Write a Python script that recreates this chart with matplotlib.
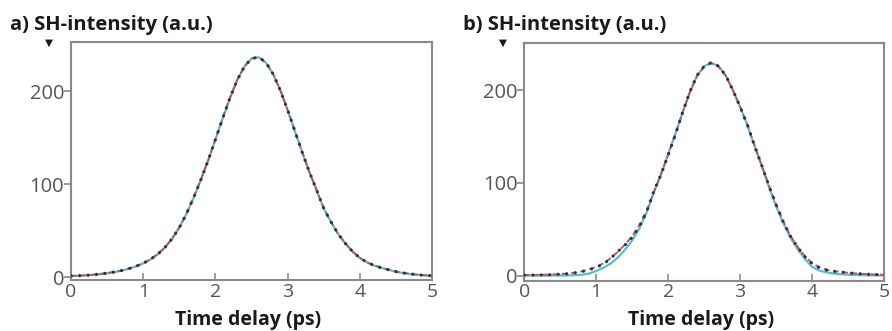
import numpy as np
import matplotlib
matplotlib.use("Agg")
import matplotlib.pyplot as plt

plt.rcParams['font.family'] = ['Open Sans', 'DejaVu Sans']

# time delay grid (ps)
time_ps = [round(0.1 * i, 1) for i in range(51)]

# panel a) measured SH intensity (black dotted), sech^2 fit (red dashed), gaussian fit (cyan)
a_measured = [1.4, 1.6, 2.0, 2.6, 3.4, 4.4, 5.6, 7.2, 9.2, 11.8,
              15.0, 19.2, 24.8, 32.0, 41.5, 53.5, 68.5, 86.0, 105.3, 125.9,
              148.2, 170.9, 192.7, 211.9, 226.6, 235.2, 236.7, 230.8, 218.4, 200.8,
              179.8, 157.3, 134.7, 113.4, 94.0, 74.0, 59.5, 46.5, 36.3, 27.6,
              20.8, 16.0, 12.6, 10.1, 8.0, 6.0, 4.6, 3.5, 2.7, 2.0, 1.5]
a_fit_sech = [1.5, 1.7, 2.1, 2.7, 3.5, 4.5, 5.7, 7.3, 9.3, 11.9,
              15.1, 19.3, 24.9, 32.1, 41.6, 53.6, 68.6, 86.1, 105.4, 126.0,
              148.3, 171.0, 192.8, 212.0, 226.7, 235.3, 236.8, 230.9, 218.5, 200.9,
              179.9, 157.4, 134.8, 113.5, 94.1, 74.1, 59.6, 46.6, 36.4, 27.7,
              20.9, 16.1, 12.7, 10.2, 8.1, 6.1, 4.7, 3.6, 2.8, 2.1, 1.6]
a_fit_gauss = [1.3, 1.5, 1.9, 2.5, 3.3, 4.3, 5.5, 7.1, 9.1, 11.7,
               14.9, 19.1, 24.7, 31.9, 41.4, 53.4, 68.4, 85.9, 105.2, 125.8,
               148.1, 170.8, 192.6, 211.8, 226.5, 235.1, 236.6, 230.7, 218.3, 200.7,
               179.7, 157.2, 134.6, 113.3, 93.9, 73.9, 59.4, 46.4, 36.2, 27.5,
               20.7, 15.9, 12.5, 10.0, 7.9, 5.9, 4.5, 3.4, 2.6, 1.9, 1.4]

# panel b)
b_measured = [0.5, 0.6, 0.7, 0.9, 1.1, 1.5, 2.0, 2.9, 4.3, 6.3,
              9.0, 12.5, 18.5, 26.0, 33.0, 41.4, 53.0, 69.0, 91.0, 109.0,
              130.0, 152.0, 176.0, 198.0, 216.0, 226.0, 230.0, 226.0, 216.0, 200.0,
              182.0, 163.0, 140.0, 119.0, 97.0, 76.5, 58.0, 42.5, 30.5, 20.5,
              13.0, 8.5, 6.0, 4.6, 3.8, 3.0, 2.3, 1.8, 1.4, 1.1, 0.8]
b_fit_sech = [0.6, 0.7, 0.8, 1.0, 1.3, 1.7, 2.3, 3.2, 4.6, 6.6,
              9.4, 13.2, 18.8, 25.6, 33.5, 42.5, 54.5, 70.0, 90.0, 109.5,
              130.5, 152.5, 176.0, 197.5, 215.0, 225.5, 229.0, 225.5, 215.5, 200.0,
              182.0, 162.5, 140.5, 119.0, 97.5, 77.0, 58.5, 43.0, 31.0, 21.0,
              13.8, 9.0, 6.4, 4.9, 3.9, 3.1, 2.4, 1.9, 1.5, 1.2, 0.9]
b_fit_gauss = [0.0, 0.0, 0.0, 0.0, 0.1, 0.1, 0.2, 0.4, 0.9, 2.2,
               5.0, 8.5, 13.0, 19.5, 28.0, 38.0, 51.0, 68.0, 90.0, 109.0,
               131.0, 153.0, 176.0, 198.0, 215.5, 226.0, 229.5, 226.0, 216.0, 200.0,
               182.0, 162.5, 140.0, 118.5, 96.0, 75.0, 56.5, 41.0, 28.5, 18.0,
               9.5, 5.5, 3.5, 2.2, 1.5, 1.0, 0.7, 0.5, 0.3, 0.2, 0.1]

panel_titles = ["a) SH-intensity (a.u.)", "b) SH-intensity (a.u.)"]
x_ticks = [0, 1, 2, 3, 4, 5]
y_ticks = [0, 100, 200]
x_label = "Time delay (ps)"

W, H = 892, 331
fig = plt.figure(figsize=(W / 100, H / 100), dpi=100)

def fx(px):
    return px / W

def fy(py):
    return 1 - py / H

panels = [
    dict(rect=(71.1, 42, 432, 280), ylim=(-3, 253), data=(a_measured, a_fit_sech, a_fit_gauss),
         title_x=10, tri_x=49),
    dict(rect=(524.3, 43, 884, 280.7), ylim=(-5.5, 251), data=(b_measured, b_fit_sech, b_fit_gauss),
         title_x=463, tri_x=503),
]

CYAN = "#4cc3d6"
RED = "#d8434e"
DOT = "#2f3340"
SPINE = "#8a8a8a"
TICKC = "#555555"

for p, title in zip(panels, panel_titles):
    l, t, r, b = p["rect"]
    ax = fig.add_axes([fx(l), fy(b), fx(r) - fx(l), fy(t) - fy(b)])
    meas, sech, gauss = p["data"]
    ax.plot(time_ps, gauss, color=CYAN, lw=1.6, solid_capstyle='round', zorder=2)
    ax.plot(time_ps, sech, color=RED, lw=1.3, dashes=(3.0, 2.2), zorder=3)
    ax.plot(time_ps, meas, color=DOT, lw=2.3, linestyle=(0, (0.05, 2.6)),
            dash_capstyle='round', zorder=4)
    ax.set_xlim(0, 5)
    ax.set_ylim(*p["ylim"])
    ax.set_xticks(x_ticks)
    ax.set_yticks(y_ticks)
    ax.tick_params(axis='x', direction='in', length=5, width=1.2, color=SPINE,
                   labelsize=14, labelcolor=TICKC, pad=2)
    ax.tick_params(axis='y', direction='out', length=5, width=1.2, color=SPINE,
                   labelsize=14.5, labelcolor=TICKC, pad=0)
    for s in ax.spines.values():
        s.set_color(SPINE)
        s.set_linewidth(1.5)
    fig.text(fx((l + r) / 2 - 3), fy(320), x_label, fontsize=14, fontweight='bold',
             color='#1a1a1a', ha='center', va='center')
    fig.text(fx(p["title_x"]), fy(25), title, fontsize=14.5, fontweight='bold',
             color='#1a1a1a', ha='left', va='center')
    fig.text(fx(p["tri_x"]), fy(43), "\u25bc", fontsize=7.5, color='#1a1a1a',
             ha='center', va='center', family=['DejaVu Sans'])

fig.savefig("out.png", dpi=100)
